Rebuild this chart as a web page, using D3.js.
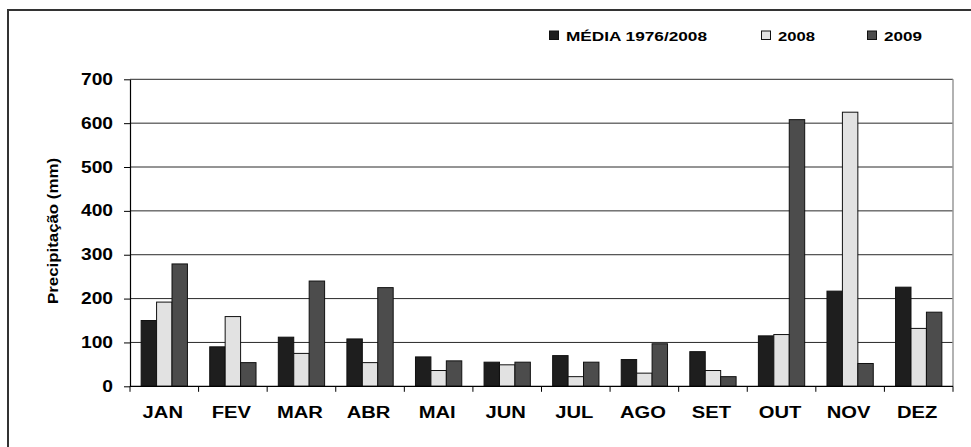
<!DOCTYPE html>
<html>
<head>
<meta charset="utf-8">
<script src="https://cdn.jsdelivr.net/npm/d3@7.9.0/dist/d3.min.js"></script>
<style>
  body { margin: 0; background: #fff; }
  svg { display: block; font-family: "Liberation Sans", Arial, sans-serif; font-weight: bold; }
</style>
</head>
<body>
<svg id="chart" width="971" height="447"></svg>
<script>
// month categories
const months = ['JAN', 'FEV', 'MAR', 'ABR', 'MAI', 'JUN', 'JUL', 'AGO', 'SET', 'OUT', 'NOV', 'DEZ'];
const seriesNames = ['MÉDIA 1976/2008', '2008', '2009'];
// values (mm)
const media = [150, 90, 112, 108, 67, 55, 70, 61, 79, 115, 217, 226];
const y2008 = [192, 159, 75, 54, 36, 49, 22, 30, 36, 118, 625, 132];
const y2009 = [279, 54, 240, 225, 58, 55, 55, 97, 22, 608, 52, 169];
const yTicks = [0, 100, 200, 300, 400, 500, 600, 700];

const colors = ['#1e1e1e', '#e2e2e2', '#4c4c4c'];
const series = [media, y2008, y2009];

const svg = d3.select('#chart');
const plot = { left: 130, right: 953, top: 79.3, bottom: 386.3 };

// stretch text horizontally like the original picture
function stretch(sel, factor) {
  sel.each(function () {
    const len = this.getComputedTextLength();
    d3.select(this).attr('textLength', len * factor).attr('lengthAdjust', 'spacingAndGlyphs');
  });
}

// outer frame (cut by the picture edge)
svg.append('rect')
  .attr('x', 8).attr('y', 10)
  .attr('width', 1000).attr('height', 500)
  .attr('fill', 'none')
  .attr('stroke', '#333')
  .attr('stroke-width', 2);

const x = d3.scaleBand()
  .domain(months)
  .range([plot.left, plot.right])
  .paddingInner(0.325)
  .paddingOuter(0.1625);

const xSub = d3.scaleBand()
  .domain(d3.range(series.length))
  .range([0, x.bandwidth()]);

const y = d3.scaleLinear().domain([0, 700]).range([plot.bottom, plot.top]);

// gridlines
svg.append('g')
  .selectAll('line')
  .data(yTicks.filter(d => d > 0))
  .join('line')
  .attr('x1', plot.left).attr('x2', plot.right)
  .attr('y1', d => y(d)).attr('y2', d => y(d))
  .attr('stroke', '#2a2a2a')
  .attr('stroke-width', 1);

// right border of plot area
svg.append('line')
  .attr('x1', plot.right).attr('x2', plot.right)
  .attr('y1', plot.top).attr('y2', plot.bottom)
  .attr('stroke', '#999')
  .attr('stroke-width', 1.5);

// bars
const groups = svg.append('g')
  .selectAll('g')
  .data(months)
  .join('g')
  .attr('transform', d => `translate(${x(d)},0)`);

groups.selectAll('rect')
  .data((m, i) => series.map((s, k) => ({ k, v: s[i] })))
  .join('rect')
  .attr('x', d => xSub(d.k))
  .attr('y', d => y(d.v))
  .attr('width', xSub.bandwidth())
  .attr('height', d => y(0) - y(d.v))
  .attr('fill', d => colors[d.k])
  .attr('stroke', '#111')
  .attr('stroke-width', 1);

// y axis
const yAxis = svg.append('g')
  .attr('transform', `translate(${plot.left},0)`)
  .call(d3.axisLeft(y).tickValues(yTicks).tickSize(6).tickSizeOuter(0).tickPadding(11));
yAxis.select('.domain').attr('stroke', '#000').attr('stroke-width', 1.2);
yAxis.selectAll('.tick line').attr('stroke', '#000');
yAxis.selectAll('.tick text')
  .attr('font-size', 16)
  .attr('font-family', '"Liberation Sans", Arial, sans-serif')
  .attr('font-weight', 'bold')
  .attr('fill', '#000')
  .call(stretch, 1.2);

// x axis line and boundary ticks
svg.append('line')
  .attr('x1', plot.left).attr('x2', plot.right)
  .attr('y1', plot.bottom).attr('y2', plot.bottom)
  .attr('stroke', '#000').attr('stroke-width', 1.2);

const bounds = months.map(m => x(m) - x.step() * x.paddingInner() / 2).concat([plot.right]);
svg.append('g')
  .selectAll('line')
  .data(bounds)
  .join('line')
  .attr('x1', d => d).attr('x2', d => d)
  .attr('y1', plot.bottom).attr('y2', plot.bottom + 5.5)
  .attr('stroke', '#000');

svg.append('g')
  .selectAll('text')
  .data(months)
  .join('text')
  .attr('x', d => x(d) + x.bandwidth() / 2 - 1.5)
  .attr('y', 418)
  .attr('text-anchor', 'middle')
  .attr('font-size', 16)
  .text(d => d)
  .call(stretch, 1.26);

// y label
svg.append('text')
  .attr('transform', `translate(58,231) rotate(-90)`)
  .attr('text-anchor', 'middle')
  .attr('font-size', 15)
  .attr('textLength', 146)
  .attr('lengthAdjust', 'spacingAndGlyphs')
  .text('Precipitação (mm)');

// legend
const legendX = [549, 761, 867];
const legendW = [141, 37, 38];
const legend = svg.append('g')
  .selectAll('g')
  .data(seriesNames)
  .join('g');

legend.append('rect')
  .attr('x', (d, i) => legendX[i] + 0.5)
  .attr('y', 31)
  .attr('width', 9)
  .attr('height', 8.5)
  .attr('fill', (d, i) => colors[i])
  .attr('stroke', '#111')
  .attr('stroke-width', 1);

legend.append('text')
  .attr('x', (d, i) => legendX[i] + 17)
  .attr('y', 40.5)
  .attr('font-size', 12.5)
  .attr('textLength', (d, i) => legendW[i])
  .attr('lengthAdjust', 'spacingAndGlyphs')
  .text(d => d);
</script>
</body>
</html>
